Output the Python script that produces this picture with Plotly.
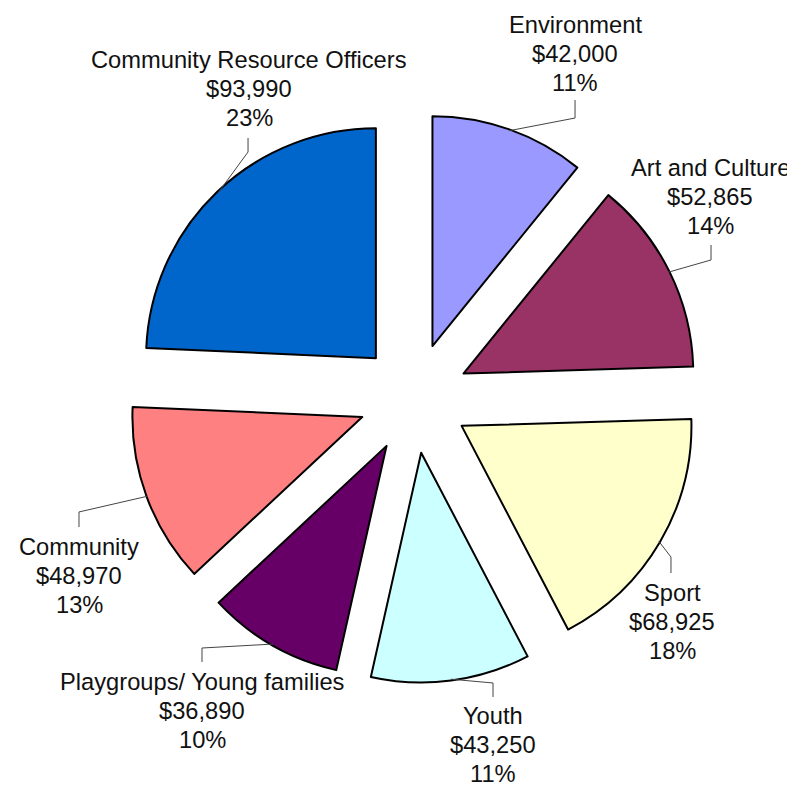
import math
import plotly.graph_objects as go

# ---- data ----
categories = ["Environment", "Art and Culture", "Sport", "Youth",
              "Playgroups/ Young families", "Community", "Community Resource Officers"]
amounts = [42000, 52865, 68925, 43250, 36890, 48970, 93990]
percent_labels = ["11%", "14%", "18%", "11%", "10%", "13%", "23%"]

# ---- styles / layout ----
colors = ["#9999FF", "#993366", "#FFFFCC", "#CCFFFF", "#660066", "#FF8080", "#0066CC"]
OFF = 8                    # page body margin offset
W, H = 795 - OFF, 785 - OFF
CX, CY = 414, 398          # pie centre (window px)
HALF = 285                 # half size of pie domain (px)
PULL = 0.24
FONT = "Liberation Sans, Arial, sans-serif"
FS = 23.7
LINE = 29                  # label line spacing (px)

# label middle-line centres, elbow points, line ends (window px)
label_pos = [(575, 54), (710, 197), (672, 622), (493, 745), (202, 711), (79, 576), (249, 89)]
elbows = [(575, 118), (711, 260), (671, 557), (493, 683), (202, 648), (79, 512), (248, 152)]
ends = [(575, 100), (711, 245), (671, 573), (493, 697), (202, 662), (79, 527), (248, 138)]


def px(x, y):
    return (x - OFF) / W, 1 - (y - OFF) / H


x0, y0 = px(CX - HALF, CY + HALF)
x1, y1 = px(CX + HALF, CY - HALF)

fig = go.Figure(go.Pie(
    labels=categories, values=amounts, sort=False, direction="clockwise", rotation=0,
    pull=[PULL] * len(amounts), textinfo="none", hoverinfo="skip",
    marker=dict(colors=colors, line=dict(color="#000000", width=2)),
    domain=dict(x=[x0, x1], y=[y0, y1]),
    showlegend=False,
))

r = HALF / (1 + PULL)
total = sum(amounts)
cum = 0
shapes = []
annotations = []
for i, v in enumerate(amounts):
    mid = (cum + v / 2) / total * 2 * math.pi
    cum += v
    d = (r + PULL * r) * 0.995
    sx, sy = CX + d * math.sin(mid), CY - d * math.cos(mid)
    pts = [(sx, sy), elbows[i], ends[i]]
    path = "M " + " L ".join("%.4f,%.4f" % px(*p) for p in pts)
    shapes.append(dict(type="path", path=path, xref="paper", yref="paper",
                       line=dict(color="#444444", width=1)))
    lines = [categories[i], f"${v:,}", percent_labels[i]]
    for k, t in enumerate(lines):
        lx, ly = px(label_pos[i][0], label_pos[i][1] + (k - 1) * LINE)
        annotations.append(dict(
            x=lx, y=ly, xref="paper", yref="paper", xanchor="center", yanchor="middle",
            text=t, showarrow=False, font=dict(family=FONT, size=FS, color="#111111"),
        ))

# cropped page fragment at left edge
ex, ey = px(9, 770)
annotations.append(dict(x=ex, y=ey, xref="paper", yref="paper", xanchor="right",
                        yanchor="middle", text="e", showarrow=False,
                        font=dict(family=FONT, size=FS, color="#111111")))

fig.update_layout(
    width=W, height=H, margin=dict(l=0, r=0, t=0, b=0),
    paper_bgcolor="white", plot_bgcolor="white",
    shapes=shapes, annotations=annotations,
)

fig.write_html("out.html")
